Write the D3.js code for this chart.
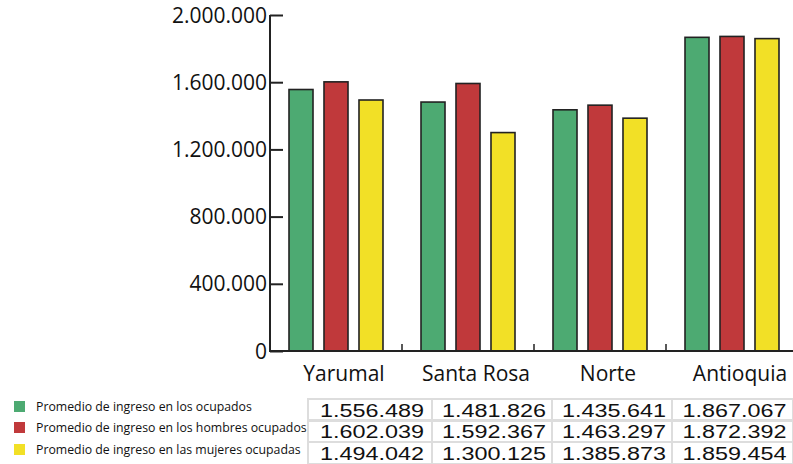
<!DOCTYPE html>
<html><head><meta charset="utf-8">
<script src="https://cdn.jsdelivr.net/npm/d3@7"></script>
<style>body{margin:0;background:#fff}svg{display:block}</style>
</head><body>
<script>
const categories = ["Yarumal", "Santa Rosa", "Norte", "Antioquia"];
const seriesNames = ["Promedio de ingreso en los ocupados", "Promedio de ingreso en los hombres ocupados", "Promedio de ingreso en las mujeres ocupadas"];
const ocupados = [1556489, 1481826, 1435641, 1867067];
const hombres = [1602039, 1592367, 1463297, 1872392];
const mujeres = [1494042, 1300125, 1385873, 1859454];
const yTicks = [0, 400000, 800000, 1200000, 1600000, 2000000];
const colors = ["#4DAA72", "#C0393B", "#F2E026"];

const series = [ocupados, hombres, mujeres];
const W = 793, H = 464;
const svg = d3.select("body").append("svg").attr("width", W).attr("height", H);
const loc = d3.formatLocale({decimal: ",", thousands: ".", grouping: [3], currency: ["$", ""]});
const fmt = loc.format(",d");

const x0 = d3.scaleBand().domain(categories).range([270, 798]).padding(0);
const x1 = d3.scaleBand().domain([0, 1, 2]).range([0, x0.bandwidth()]).paddingInner(0.314).paddingOuter(0.543);
const y = d3.scaleLinear().domain([0, 2000000]).range([351, 15]);

// bars
const g = svg.append("g");
categories.forEach((c, ci) => {
  series.forEach((s, si) => {
    g.append("rect")
      .attr("x", x0(c) + x1(si))
      .attr("y", y(s[ci]))
      .attr("width", x1.bandwidth())
      .attr("height", y(0) - y(s[ci]))
      .attr("fill", colors[si])
      .attr("stroke", "#222")
      .attr("stroke-width", 1.6);
  });
});

// y axis
const yAxis = d3.axisRight(y).tickValues(yTicks).tickSize(13).tickFormat("");
const ya = svg.append("g").attr("transform", "translate(270,0)").call(yAxis);
ya.select(".domain").remove();
ya.selectAll("line").attr("stroke", "#222").attr("stroke-width", 2);
svg.append("line").attr("x1", 270).attr("x2", 270).attr("y1", y(2000000)).attr("y2", y(0) + 1).attr("stroke", "#222").attr("stroke-width", 2);
svg.selectAll(".ylab").data(yTicks).enter().append("text")
  .attr("x", 267).attr("y", d => y(d)).attr("dy", "0.36em")
  .attr("text-anchor", "end")
  .attr("font-family", "Open Sans").attr("font-size", 21).attr("fill", "#111")
  .text(d => fmt(d));

// baseline
svg.append("line").attr("x1", 269).attr("x2", 793).attr("y1", y(0)).attr("y2", y(0)).attr("stroke", "#222").attr("stroke-width", 2);
// group separator ticks
categories.slice(1).forEach(c => {
  svg.append("line").attr("x1", x0(c)).attr("x2", x0(c)).attr("y1", y(0) - 7).attr("y2", y(0)).attr("stroke", "#222").attr("stroke-width", 1.5);
});
// category labels
svg.selectAll(".clab").data(categories).enter().append("text")
  .attr("x", d => x0(d) + x0.bandwidth() / 2 + 8).attr("y", 381)
  .attr("text-anchor", "middle")
  .attr("font-family", "Open Sans").attr("font-size", 21).attr("fill", "#111")
  .text(d => d);

// legend
const rowTops = [399, 420, 442];
const rowH = 22;
seriesNames.forEach((n, i) => {
  svg.append("rect").attr("x", 14).attr("y", rowTops[i] + 2).attr("width", 11).attr("height", 11).attr("fill", colors[i]);
  svg.append("text").attr("x", 36).attr("y", rowTops[i] + 12)
    .attr("font-family", "Open Sans").attr("font-size", 12.3).attr("fill", "#111").text(n);
});

// table
const colX = [308, 432, 552, 672, 793];
const tg = svg.append("g");
series.forEach((s, si) => {
  s.forEach((v, ci) => {
    tg.append("rect").attr("x", colX[ci]).attr("y", rowTops[si]).attr("width", colX[ci + 1] - colX[ci]).attr("height", rowH)
      .attr("fill", "none").attr("stroke", "#ddd").attr("stroke-width", 2);
    tg.append("text").attr("x", (colX[ci] + colX[ci + 1]) / 2 + 2).attr("y", rowTops[si] + 18)
      .attr("text-anchor", "middle")
      .attr("font-family", "Liberation Sans").attr("font-size", 18).attr("fill", "#111")
      .attr("textLength", 104).attr("lengthAdjust", "spacingAndGlyphs")
      .text(fmt(v));
  });
});
</script>
</body></html>
